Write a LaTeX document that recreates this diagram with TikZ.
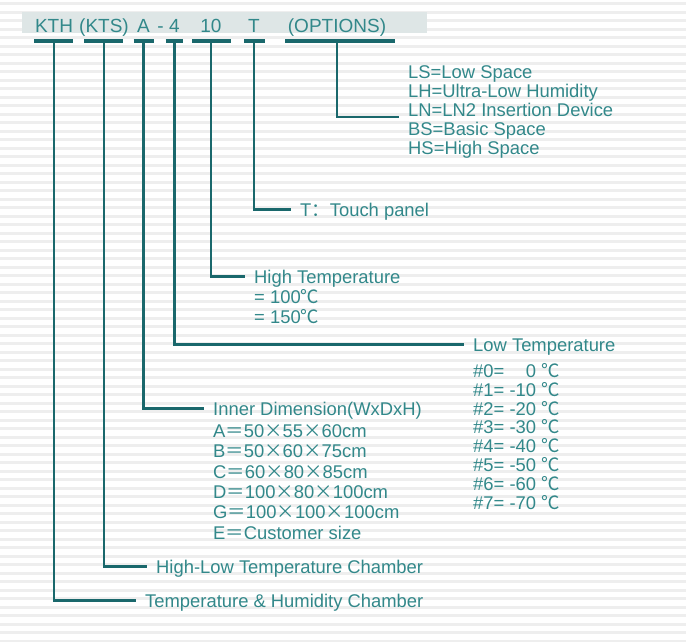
\documentclass[tikz,border=0pt]{standalone}
\usepackage{fontspec}
\setmainfont{Liberation Sans}
\newfontfamily\cjk{Noto Sans CJK SC}
\usetikzlibrary{positioning}
\definecolor{tealtext}{RGB}{50,136,138}
\definecolor{tealline}{RGB}{26,104,108}
\definecolor{bandgray}{RGB}{222,230,230}
\definecolor{stripegray}{RGB}{238,238,238}
\newcommand\tms{\makebox[1em]{\cjk ×}}
\newcommand\eqw{\makebox[1em]{\cjk ＝}}
\newcommand\degc{{\cjk ℃}}

\begin{document}
\begin{tikzpicture}[
    x=1pt, y=-1pt,
    font=\fontsize{18.4}{19.2}\selectfont,
    code/.style={text=tealtext, font=\fontsize{19}{20}\selectfont, inner sep=0pt, anchor=base},
    lab/.style={text=tealtext, anchor=west, text height=13pt, text depth=0pt,
                inner ysep=0pt, inner xsep=9pt},
    list/.style={text=tealtext, align=left, anchor=north west,
                 inner ysep=0pt, inner xsep=9pt},
    bar/.style={draw=tealline, line width=3.2pt},
    link/.style={draw=tealline, line width=2.4pt}
]
\useasboundingbox (0,0) rectangle (686,641);
% striped background
\foreach \s in {2,10.5,...,641}
  \fill[stripegray] (0,\s) rectangle (686,\s+3);
\fill[bandgray] (22,12) rectangle (427,33);

% model code
\node[code] (kth) at (54,32.3) {KTH};
\node[code] (kts) at (104,32.3) {(KTS)};
\node[code] (dimA) at (143.5,32.3) {A};
\node[code] (dash) at (160.5,32.3) {-};
\node[code] (low4) at (174.5,32.3) {4};
\node[code] (high10) at (211,32.3) {10};
\node[code] (touchT) at (254,32.3) {T};
\node[code] (opts) at (337,32.3) {(OPTIONS)};

\coordinate (kth-b) at (kth.base |- 0,41);
\coordinate (kts-b) at (kts.base |- 0,41);
\coordinate (dimA-b) at (dimA.base |- 0,41);
\coordinate (low4-b) at (low4.base |- 0,41);
\coordinate (high10-b) at (high10.base |- 0,41);
\coordinate (touchT-b) at (touchT.base |- 0,41);
\coordinate (opts-b) at (opts.base |- 0,41);

\draw[bar] ([xshift=-20pt]kth-b) -- ([xshift=19pt]kth-b);
\draw[bar] ([xshift=-20pt]kts-b) -- ([xshift=19pt]kts-b);
\draw[bar] ([xshift=-10pt]dimA-b) -- ([xshift=10pt]dimA-b);
\draw[bar] ([xshift=-9pt]low4-b) -- ([xshift=8pt]low4-b);
\draw[bar] ([xshift=-19pt]high10-b) -- ([xshift=20pt]high10-b);
\draw[bar] ([xshift=-10pt]touchT-b) -- ([xshift=11pt]touchT-b);
\draw[bar] ([xshift=-52pt]opts-b) -- ([xshift=58pt]opts-b);

% meanings
\node[list] (optlist) at (399,65) {LS=Low Space\\LH=Ultra-Low Humidity\\LN=LN2 Insertion Device\\BS=Basic Space\\HS=High Space};
\node[lab] (touch) at (291,209.5) {T{\cjk ：}Touch panel};
\node[lab] (high) at (245,276.5) {High Temperature};
\node[list, below=6pt of high.south west, anchor=north west,
      font=\fontsize{18.4}{19.6}\selectfont] (highlist) {= 100\degc\\= 150\degc};
\node[lab] (low) at (464,344.5) {Low Temperature};
\node[list, below=12pt of low.south west, anchor=north west,
      font=\fontsize{18.4}{18.8}\selectfont] (lowlist)
  {\#0= \phantom{-1}0 \degc\\\#1= -10 \degc\\\#2= -20 \degc\\\#3= -30 \degc\\
   \#4= -40 \degc\\\#5= -50 \degc\\\#6= -60 \degc\\\#7= -70 \degc};
\node[lab] (inner) at (204,408.5) {Inner Dimension(WxDxH)};
\node[list, below=9pt of inner.south west, anchor=north west,
      font=\fontsize{18.4}{20.4}\selectfont] (innerlist)
  {A\eqw 50\tms 55\tms 60cm\\B\eqw 50\tms 60\tms 75cm\\C\eqw 60\tms 80\tms 85cm\\
   D\eqw 100\tms 80\tms 100cm\\G\eqw 100\tms 100\tms 100cm\\E\eqw Customer size};
\node[lab] (hlc) at (147,566.5) {High-Low Temperature Chamber};
\node[lab] (thc) at (136,600.5) {Temperature \& Humidity Chamber};

\draw[link] (opts-b) |- ([yshift=-5pt]optlist.west);
\draw[link] (touchT-b) |- (touch.west);
\draw[link] (high10-b) |- (high.west);
\draw[link] (low4-b) |- (low.west);
\draw[link] (dimA-b) |- (inner.west);
\draw[link] (kts-b) |- (hlc.west);
\draw[link] (kth-b) |- (thc.west);
\end{tikzpicture}
\end{document}
